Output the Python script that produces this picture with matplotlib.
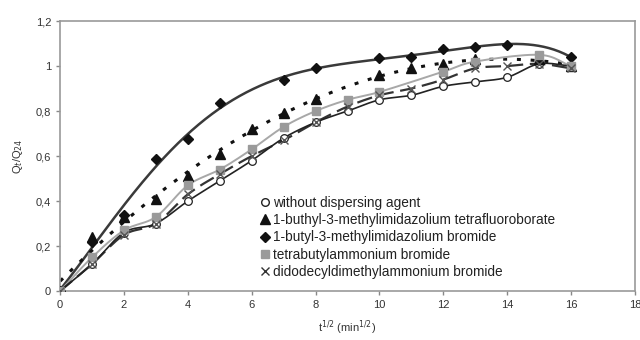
import numpy as np
import matplotlib
matplotlib.use("Agg")
import matplotlib.pyplot as plt
from matplotlib.lines import Line2D

plt.rcParams['font.family'] = ['Liberation Sans', 'DejaVu Sans']

# data: t^(1/2) (min^(1/2)) and Qt/Q24
t_none = [0, 1, 2, 3, 4, 5, 6, 7, 8, 9, 10, 11, 12, 13, 14, 15, 16]
q_none = [0, 0.12, 0.26, 0.30, 0.40, 0.49, 0.58, 0.68, 0.75, 0.80, 0.85, 0.87, 0.91, 0.93, 0.95, 1.01, 1.00]

t_bf4 = [0, 1, 2, 3, 4, 5, 6, 7, 8, 10, 11, 12, 13, 15, 16]
q_bf4 = [0, 0.24, 0.33, 0.41, 0.51, 0.61, 0.72, 0.79, 0.855, 0.96, 0.99, 1.01, 1.03, 1.03, 1.00]

t_br = [0, 1, 2, 3, 4, 5, 7, 8, 10, 11, 12, 13, 14, 16]
q_br = [0, 0.22, 0.34, 0.585, 0.675, 0.834, 0.94, 0.99, 1.035, 1.04, 1.075, 1.085, 1.095, 1.04]

t_tbab = [0, 1, 2, 3, 4, 5, 6, 7, 8, 9, 10, 12, 13, 15, 16]
q_tbab = [0, 0.15, 0.27, 0.33, 0.47, 0.54, 0.63, 0.73, 0.80, 0.85, 0.885, 0.975, 1.02, 1.05, 1.00]

t_ddab = [0, 1, 2, 3, 4, 5, 6, 7, 8, 9, 10, 11, 12, 13, 14, 15, 16]
q_ddab = [0, 0.12, 0.25, 0.30, 0.43, 0.52, 0.60, 0.67, 0.75, 0.82, 0.87, 0.90, 0.94, 0.99, 1.00, 1.01, 0.99]

labels = ["without dispersing agent",
          "1-buthyl-3-methylimidazolium tetrafluoroborate",
          "1-butyl-3-methylimidazolium bromide",
          "tetrabutylammonium bromide",
          "didodecyldimethylammonium bromide"]


def smooth(x, y, n=12):
    # Catmull-Rom style smoothed line through points (like a spreadsheet "smoothed line")
    x = np.asarray(x, float)
    y = np.asarray(y, float)
    px = np.concatenate([[2 * x[0] - x[1]], x, [2 * x[-1] - x[-2]]])
    py = np.concatenate([[2 * y[0] - y[1]], y, [2 * y[-1] - y[-2]]])
    xs, ys = [], []
    s = np.linspace(0, 1, n, endpoint=False)
    for i in range(1, len(px) - 2):
        p0, p1, p2, p3 = [np.array([px[j], py[j]]) for j in range(i - 1, i + 3)]
        for u in s:
            pt = 0.5 * ((2 * p1) + (-p0 + p2) * u + (2 * p0 - 5 * p1 + 4 * p2 - p3) * u ** 2
                        + (-p0 + 3 * p1 - 3 * p2 + p3) * u ** 3)
            xs.append(pt[0]); ys.append(pt[1])
    xs.append(x[-1]); ys.append(y[-1])
    return np.array(xs), np.array(ys)


def polyline(x, y, deg):
    c = np.polyfit(x, y, deg)
    xx = np.linspace(min(x), max(x), 300)
    return xx, np.polyval(c, xx)


fig = plt.figure(figsize=(6.4, 3.4), dpi=100)
ax = fig.add_axes([0.094, 0.144, 0.898, 0.794])

# curves
xx, yy = polyline(t_br, q_br, 5)
ax.plot(xx, yy, color='#3a3a3a', lw=1.8, zorder=2)
xx, yy = polyline(t_bf4, q_bf4, 3)
ax.plot(xx, yy, color='#111111', lw=2.2, ls=(0, (1.3, 3.2)), zorder=2)
xx, yy = smooth(t_tbab, q_tbab)
ax.plot(xx, yy, color='#a8a8a8', lw=1.4, zorder=2)
xx, yy = smooth(t_ddab, q_ddab)
ax.plot(xx, yy, color='#333333', lw=1.6, ls=(0, (7, 3)), zorder=2)
xx, yy = smooth(t_none, q_none)
ax.plot(xx, yy, color='#222222', lw=1.2, zorder=2)

# markers
ax.plot(t_none, q_none, 'o', mfc='white', mec='#222222', ms=5.5, mew=0.9, ls='none', zorder=3)
ax.plot(t_bf4, q_bf4, '^', color='#111111', ms=6.5, ls='none', zorder=3)
ax.plot(t_br, q_br, 'D', color='#111111', ms=5, ls='none', zorder=3)
ax.plot(t_tbab, q_tbab, 's', color='#9a9a9a', ms=6, ls='none', zorder=3)
ax.plot(t_ddab, q_ddab, 'x', color='#555555', ms=6, mew=1.0, ls='none', zorder=3)

ax.set_xlim(0, 18)
ax.set_ylim(0, 1.2)
ax.set_xticks(np.arange(0, 19, 2))
yt = [0, 0.2, 0.4, 0.6, 0.8, 1.0, 1.2]
ax.set_yticks(yt)
ax.set_yticklabels(["0", "0,2", "0,4", "0,6", "0,8", "1", "1,2"])
for s in ax.spines.values():
    s.set_color('#999999')
    s.set_linewidth(1.2)
ax.tick_params(axis='both', labelsize=8, colors='#333333', length=3, width=1, direction='out')
ax.tick_params(axis='both', color='#888888')
ax.set_xlabel(r"t$^{1/2}$ (min$^{1/2}$)", fontsize=8, color='#333333', labelpad=6)
ax.set_ylabel(r"Q$_t$/Q$_{24}$", fontsize=8, color='#333333', labelpad=8)

handles = [
    Line2D([], [], marker='o', mfc='white', mec='#222222', ms=5.5, ls='none'),
    Line2D([], [], marker='^', color='#111111', ms=6.5, ls='none'),
    Line2D([], [], marker='D', color='#111111', ms=5, ls='none'),
    Line2D([], [], marker='s', color='#9a9a9a', ms=6, ls='none'),
    Line2D([], [], marker='x', color='#333333', ms=6, ls='none'),
]
leg = fig.legend(handles, labels, loc='upper left', bbox_to_anchor=(0.406, 0.425),
                 frameon=False, fontsize=9.8, handlelength=0.8, handletextpad=0.15,
                 labelspacing=0.25, borderaxespad=0, borderpad=0)
for txt in leg.get_texts():
    txt.set_color('#222222')

fig.savefig("out.png", dpi=100)
